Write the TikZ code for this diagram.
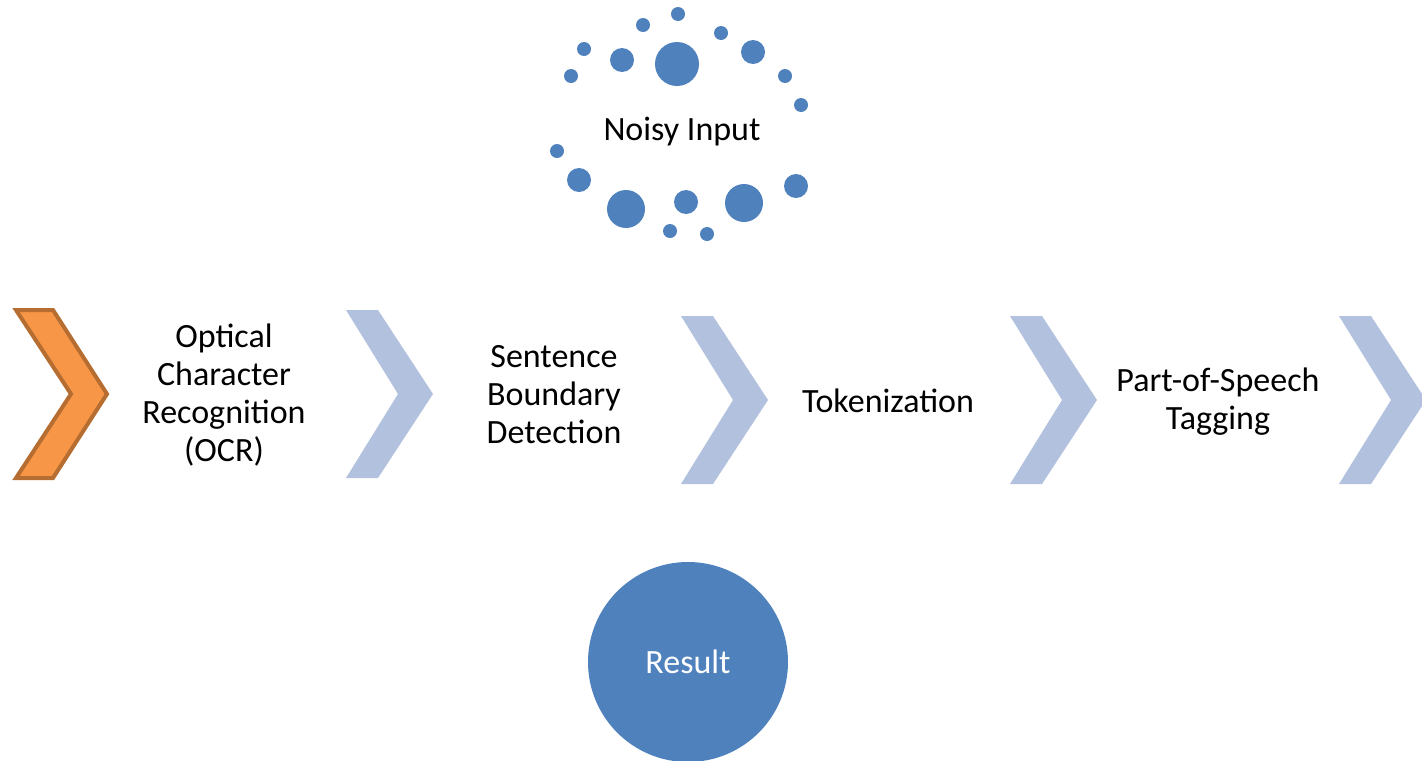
\documentclass[tikz,border=0pt]{standalone}
\usepackage{fontspec}
\setmainfont{Carlito}
\definecolor{dotblue}{RGB}{79,129,189}
\definecolor{chevblue}{RGB}{178,193,222}
\definecolor{chevorange}{RGB}{247,150,70}
\definecolor{chevedge}{RGB}{182,109,49}
\tikzset{
  txt/.style={font=\fontsize{25.5}{28.5}\selectfont, align=center, text=black, inner sep=0pt},
  dot/.style={fill=dotblue},
  pics/chevron/.style={code={
    \fill[chevblue] (0,-84) -- (32,-84) -- (87,0) -- (32,84) -- (0,84) -- (52,0) -- cycle;
  }},
  pics/activechevron/.style={code={
    \filldraw[fill=chevorange, draw=chevedge, line width=3pt, line join=miter]
      (0,-84) -- (37,-84) -- (91,0) -- (37,84) -- (0,84) -- (55,0) -- cycle;
  }},
}
\begin{document}
\begin{tikzpicture}[x=0.75pt,y=-0.75pt]
\useasboundingbox (0,0) rectangle (1422,761);

% cloud of dots around the input label
\foreach \cx/\cy/\r in {
  678/14/7, 643/25/7, 721/33/7, 584/49/7, 622/60/12, 677/64/22,
  753/52/12, 571/76/7, 785/76/7, 801/105/7, 557/151/7, 579/180/12,
  626/209/19, 686/202/12, 744/203/19, 796/186/12, 670/231/7, 707/234/7}
  \fill[dot] (\cx,\cy) circle[radius=\r*0.75pt];
\node[txt] (noisy) at (682,132) {Noisy Input};

% pipeline stages
\pic (s1) at (16,394) {activechevron};
\pic (s2) at (346,394) {chevron};
\pic (s3) at (681,400) {chevron};
\pic (s4) at (1010,400) {chevron};
\pic (s5) at (1339,400) {chevron};

\node[txt] (ocr) at (224,395) {Optical\\Character\\Recognition\\(OCR)};
\node[txt] (sbd) at (554,395) {Sentence\\Boundary\\Detection};
\node[txt] (tok) at (888,401) {Tokenization};
\node[txt] (pos) at (1218,402) {Part-of-Speech\\Tagging};

% output
\node[circle, fill=dotblue, minimum size=150pt, inner sep=0pt,
      font=\fontsize{25.5}{28.5}\selectfont, text=white] (result) at (688,662) {Result};
\end{tikzpicture}
\end{document}
